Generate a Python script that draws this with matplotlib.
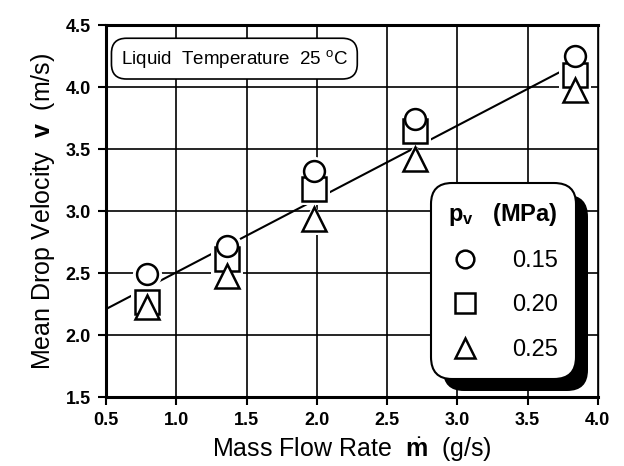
import numpy as np
import matplotlib
matplotlib.use('Agg')
import matplotlib.pyplot as plt
from matplotlib.lines import Line2D
import matplotlib.patheffects as pe

plt.rcParams['font.family'] = ['Liberation Sans', 'DejaVu Sans']
plt.rcParams['mathtext.fontset'] = 'custom'
plt.rcParams['mathtext.rm'] = 'Liberation Sans'
plt.rcParams['mathtext.it'] = 'Liberation Sans'
plt.rcParams['mathtext.bf'] = 'Liberation Sans:bold'

# data
flow = [0.79, 1.36, 1.98, 2.70, 3.84]
v_015 = [2.49, 2.72, 3.32, 3.74, 4.25]
v_020 = [2.27, 2.61, 3.18, 3.65, 4.10]
v_025 = [2.23, 2.48, 2.94, 3.42, 3.98]
pressures = ['0.15', '0.20', '0.25']

fit_x = [0.5, 3.93]
fit_y = [2.21, 4.24]

xticks = [0.5, 1.0, 1.5, 2.0, 2.5, 3.0, 3.5, 4.0]
yticks = [1.5, 2.0, 2.5, 3.0, 3.5, 4.0, 4.5]

fig = plt.figure(figsize=(6.24, 4.66), dpi=100)
ax = fig.add_axes([0.170, 0.148, 0.788, 0.798])

ax.plot(fit_x, fit_y, 'k-', lw=1.5, zorder=2)

# square drawn first, circle and triangle sit on top of it
series = [(v_020, 's', 17, 3), (v_015, 'o', 15, 4), (v_025, '^', 17, 4)]
for vals, m, ms, z in series:
    # white halo to break the fit line around the symbols
    ax.plot(flow, vals, linestyle='none', marker=m, ms=ms + 6, mfc='white',
            mec='white', mew=0, zorder=2.5)
for vals, m, ms, z in series:
    ax.plot(flow, vals, linestyle='none', marker=m, ms=ms, mfc='white',
            mec='black', mew=1.8, zorder=z)

ax.set_xlim(0.5, 4.0)
ax.set_ylim(1.5, 4.5)
ax.set_xticks(xticks)
ax.set_yticks(yticks)
ax.set_xticklabels([f'{t:.1f}' for t in xticks], fontweight='bold', fontsize=13)
ax.set_yticklabels([f'{t:.1f}' for t in yticks], fontweight='bold', fontsize=13)
ax.tick_params(direction='out', length=6, width=1.5, color='black', pad=5)
ax.grid(True, color='black', lw=1.2)
ax.set_axisbelow(True)
for side in ['top', 'bottom', 'left']:
    ax.spines[side].set_linewidth(2.2)
ax.spines['right'].set_linewidth(1.0)

ax.set_xlabel(r'Mass Flow Rate  $\dot{\mathbf{m}}$  (g/s)', fontsize=18, labelpad=4)
ax.set_ylabel(r'Mean Drop Velocity  $\mathbf{v}$  (m/s)', fontsize=18, labelpad=6)

ax.text(0.03, 0.91, 'Liquid  Temperature  25 $^{\\mathrm{o}}$C', transform=ax.transAxes,
        fontsize=13.5, va='center', ha='left',
        bbox=dict(boxstyle='round,pad=0.5,rounding_size=0.8', fc='white', ec='black', lw=1.2),
        zorder=5)

leg_series = [(v_015, 'o', 15), (v_020, 's', 17), (v_025, '^', 17)]
handles = [Line2D([], [], linestyle='none', marker=m, ms=ms * 0.85, mfc='none', mec='black', mew=1.8)
           for _, m, ms in leg_series]
leg = ax.legend(handles, pressures, title=r'$\mathbf{p_v}$   (MPa)',
                loc='lower right', bbox_to_anchor=(0.979, 0.018),
                fontsize=17, title_fontproperties={'size': 17, 'weight': 'bold'},
                frameon=True, fancybox=True, framealpha=1, edgecolor='black',
                borderpad=0.75, labelspacing=0.95, handletextpad=1.3, handlelength=1.4)
frame = leg.get_frame()
frame.set_linewidth(1.5)
frame.set_boxstyle('round,pad=0,rounding_size=0.9')
frame.set_path_effects([pe.SimplePatchShadow(offset=(9, -9), shadow_rgbFace='black', alpha=1.0),
                        pe.Normal()])
leg.set_zorder(6)

fig.savefig('out.png', dpi=100, facecolor='white')
